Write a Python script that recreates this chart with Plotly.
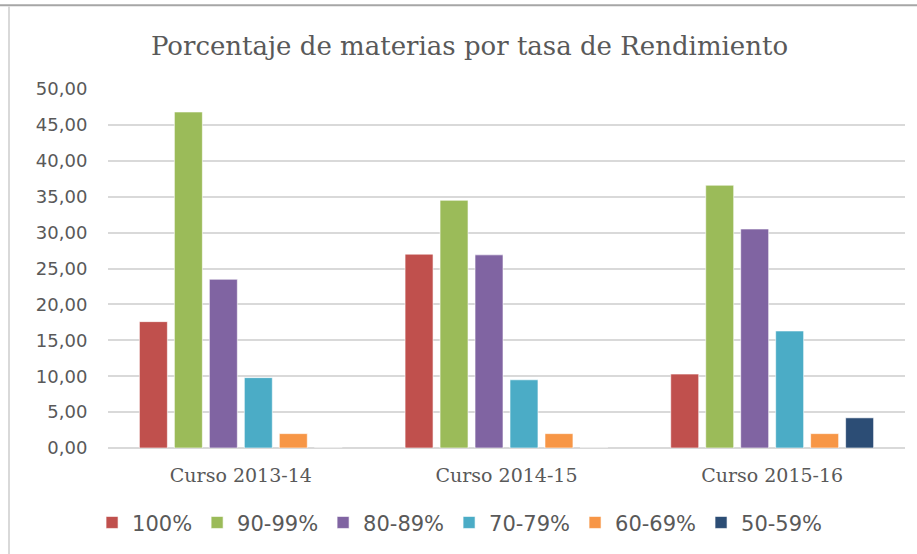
import plotly.graph_objects as go

categories = ["Curso 2013-14", "Curso 2014-15", "Curso 2015-16"]
series_names = ["100%", "90-99%", "80-89%", "70-79%", "60-69%", "50-59%"]
v100 = [17.6, 27.0, 10.3]
v90_99 = [46.8, 34.5, 36.6]
v80_89 = [23.5, 26.9, 30.5]
v70_79 = [9.8, 9.5, 16.3]
v60_69 = [2.0, 2.0, 2.0]
v50_59 = [0.0, 0.0, 4.2]
series_values = [v100, v90_99, v80_89, v70_79, v60_69, v50_59]
colors = ["#C0504D", "#9BBB59", "#8064A2", "#4BACC6", "#F79646", "#2C4D75"]
y_ticks = [0, 5, 10, 15, 20, 25, 30, 35, 40, 45, 50]

fig = go.Figure()
for name, vals, col in zip(series_names, series_values, colors):
    fig.add_trace(go.Bar(
        x=categories, y=vals, name=name,
        marker=dict(color=col, line=dict(color="rgba(255,255,255,0.6)", width=1)),
    ))

fig.update_layout(
    width=917, height=554,
    paper_bgcolor="white", plot_bgcolor="white",
    margin=dict(l=108, r=12, t=89, b=105),
    barmode="group", bargap=0.21, bargroupgap=0.2,
    separators=",.",
    title=dict(text="Porcentaje de materias por tasa de Rendimiento",
               x=0.512, xanchor="center", y=0.918, yanchor="middle",
               font=dict(family="DejaVu Serif", size=26, color="#595959")),
    xaxis=dict(showgrid=False, showline=False, ticks="outside", ticklen=10,
               tickcolor="rgba(0,0,0,0)",
               tickfont=dict(family="DejaVu Serif", size=19, color="#595959")),
    yaxis=dict(range=[0, 50], tickvals=y_ticks, tickformat=".2f",
               showgrid=True, gridcolor="#d9d9d9", gridwidth=1.5,
               zeroline=True, zerolinecolor="#d9d9d9", zerolinewidth=1.5,
               ticks="outside", ticklen=16, tickcolor="rgba(0,0,0,0)",
               tickfont=dict(family="DejaVu Sans", size=18, color="#595959")),
    legend=dict(orientation="h", x=-0.02, xanchor="left", y=-0.205, yanchor="middle",
                font=dict(family="DejaVu Sans", size=21, color="#595959"),
                traceorder="normal", itemwidth=30),
    showlegend=True,
    shapes=[
        dict(type="line", xref="paper", yref="paper", x0=-0.14, x1=1.02, y0=1.2333, y1=1.2333,
             line=dict(color="#a6a6a6", width=2)),
        dict(type="line", xref="paper", yref="paper", x0=-0.1242, x1=-0.1242, y0=1.23, y1=-0.3,
             line=dict(color="#d9d9d9", width=2)),
    ],
)

fig.write_html("out.html", config={"displayModeBar": False},
               post_script="document.body.style.margin='0';")
